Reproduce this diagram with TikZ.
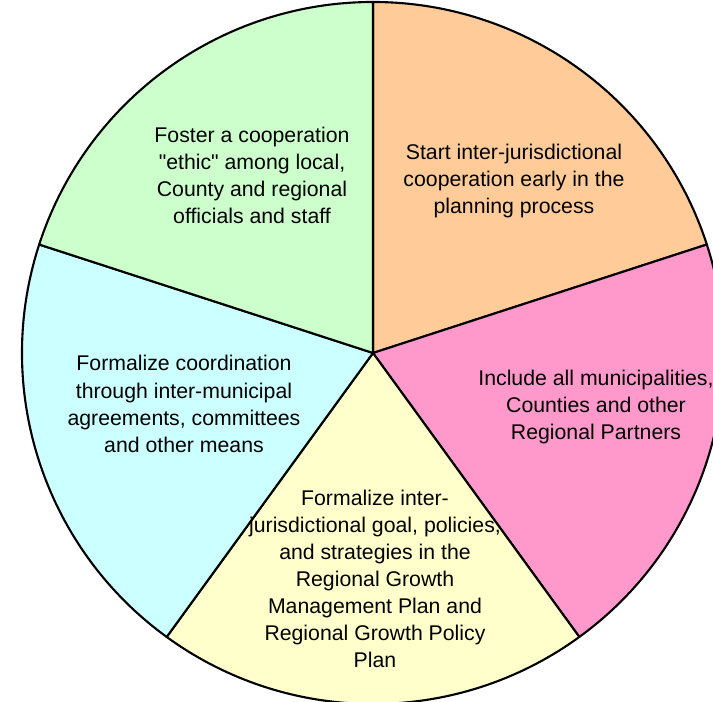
\documentclass[tikz,border=0pt]{standalone}
\usepackage{fontspec}
\setmainfont{Liberation Sans}
\definecolor{slorange}{HTML}{FFCC99}
\definecolor{slpink}{HTML}{FF99CC}
\definecolor{slyellow}{HTML}{FFFFCC}
\definecolor{slcyan}{HTML}{CCFFFF}
\definecolor{slgreen}{HTML}{CCFFCC}

\begin{document}
\begin{tikzpicture}[
    slice/.style={draw=black,line width=1.2pt,line join=round},
    label/.style={align=center,text=black,font=\fontsize{12.1}{15.4}\selectfont}]
    \useasboundingbox (0,0) rectangle (14.26,14.04);
    \clip (0,0) rectangle (14.26,14.04);
    \coordinate (c) at (7.46,6.98);
    % five equal slices, starting at the top and going clockwise
    \foreach \a/\col in {90/slorange,18/slpink,-54/slyellow,-126/slcyan,162/slgreen}
        \filldraw[slice,fill=\col] (c) -- ++(\a:7.02) arc (\a:\a-72:7.02) -- cycle;
    \node[label] (start) at (10.28,10.42) {Start inter-jurisdictional\\cooperation early in the\\planning process};
    \node[label] (include) at (11.92,5.90) {Include all municipalities,\\Counties and other\\Regional Partners};
    \node[label] (goals) at (7.50,2.46) {Formalize inter-\\jurisdictional goal, policies,\\and strategies in the\\Regional Growth\\Management Plan and\\Regional Growth Policy\\Plan};
    \node[label] (coord) at (3.68,5.96) {Formalize coordination\\through inter-municipal\\agreements, committees\\and other means};
    \node[label] (ethic) at (5.04,10.53) {Foster a cooperation\\\textquotedbl ethic\textquotedbl{} among local,\\County and regional\\officials and staff};
\end{tikzpicture}
\end{document}
